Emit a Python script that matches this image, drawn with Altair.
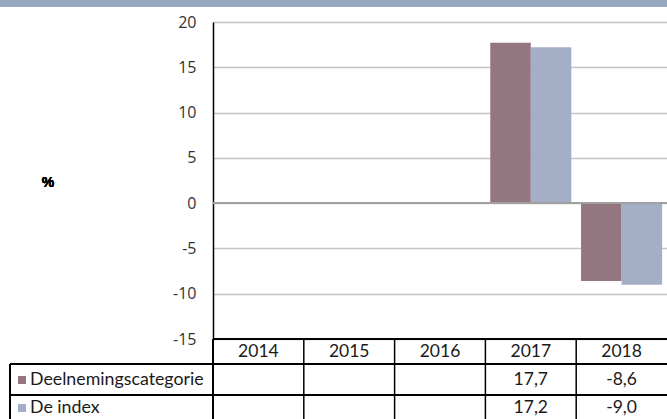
import altair as alt
import pandas as pd

years = ["2014", "2015", "2016", "2017", "2018"]
series = ["Deelnemingscategorie", "De index"]
deelneming = [None, None, None, 17.7, -8.6]
de_index = [None, None, None, 17.2, -9.0]
colors = ["#93767f", "#a4afc7"]
y_ticks = [-15, -10, -5, 0, 5, 10, 15, 20]

rows = []
for i, y in enumerate(years):
    rows.append({"year": y, "series": series[0], "value": deelneming[i]})
    rows.append({"year": y, "series": series[1], "value": de_index[i]})
df = pd.DataFrame(rows)
ydf = pd.DataFrame({"year": years})
sdf = pd.DataFrame({"series": series})

W, H = 454, 317
TF = "Lato"
TS = 17.5

xscale = alt.Scale(domain=years, paddingInner=0, paddingOuter=0)
yscale = alt.Scale(domain=[-15, 20], nice=False, zero=False)
cscale = alt.Scale(domain=series, range=colors)

base = alt.Chart(df)

band = alt.Chart(ydf).mark_rect(color="#97a7be").encode(
    x=alt.value(-213), x2=alt.value(W), y=alt.value(-22), y2=alt.value(-15))

bars = base.transform_filter("datum.value != null").mark_bar().encode(
    x=alt.X("year:N", scale=xscale, axis=None),
    xOffset=alt.XOffset("series:N", scale=alt.Scale(domain=series, paddingInner=0, paddingOuter=0.12)),
    y=alt.Y("value:Q", scale=yscale,
            axis=alt.Axis(values=y_ticks, grid=True, gridColor="#c4c4c4", gridWidth=1.5,
                          domainColor="#000000", domainWidth=1.5, ticks=False,
                          labelPadding=17, labelFont="Open Sans", labelFontSize=16,
                          labelColor="#333333", title=None,
                          labelExpr="replace(datum.label, '\u2212', '-')")),
    color=alt.Color("series:N", scale=cscale, legend=None),
)

zero = alt.Chart(ydf).mark_rule(color="#a0a0a0", strokeWidth=1.5).encode(
    y=alt.datum(0, scale=yscale), x=alt.value(0), x2=alt.value(W))

pct = alt.Chart(ydf).mark_text(text="%", font="Liberation Sans", fontSize=14,
                               fontWeight="bold", color="#000").encode(
    x=alt.value(48 - 213), y=alt.value(183 - 22))

# table lines
hlines = []
for yy, x0 in [(H, 0), (342, -203), (373, -203)]:
    hlines.append(alt.Chart(ydf).mark_rule(color="#000", strokeWidth=1.5).encode(
        y=alt.value(yy), x=alt.value(x0), x2=alt.value(W)))
vleft = alt.Chart(ydf).mark_rule(color="#000", strokeWidth=1.5).encode(
    x=alt.value(0), y=alt.value(H), y2=alt.value(H + 80))
vfar = alt.Chart(ydf).mark_rule(color="#000", strokeWidth=1.5).encode(
    x=alt.value(-203), y=alt.value(342), y2=alt.value(H + 80))
vcols = alt.Chart(ydf).transform_filter("datum.year != '2014'").mark_rule(
    color="#000", strokeWidth=1.5).encode(
    x=alt.X("year:N", scale=xscale, bandPosition=0),
    y=alt.value(H), y2=alt.value(H + 80))

header = alt.Chart(ydf).mark_text(font=TF, fontSize=TS, color="#1a1a1a", baseline="middle").encode(
    x=alt.X("year:N", scale=xscale, bandPosition=0.5), y=alt.value(330), text="year:N")

vals = []
for s, yy in [(series[0], 358), (series[1], 386)]:
    vals.append(base.transform_filter(f"datum.series == '{s}' && datum.value != null").transform_calculate(
        lab="replace(replace(format(datum.value, '.1f'), '.', ','), '\u2212', '-')").mark_text(
        font=TF, fontSize=TS, color="#1a1a1a", baseline="middle").encode(
        x=alt.X("year:N", scale=xscale, bandPosition=0.5), y=alt.value(yy), text="lab:N"))

labels = []
for s, yy in [(series[0], 358), (series[1], 386)]:
    one = alt.Chart(sdf).transform_filter(f"datum.series == '{s}'")
    labels.append(one.mark_square(size=64, opacity=1).encode(
        x=alt.value(22 - 213), y=alt.value(yy),
        color=alt.Color("series:N", scale=cscale, legend=None)))
    labels.append(one.mark_text(font=TF, fontSize=17.8, color="#1a1a1a", align="left",
                                baseline="middle").encode(
        x=alt.value(30 - 213), y=alt.value(yy), text="series:N"))

chart = alt.layer(band, bars, zero, pct, *hlines, vleft, vfar, vcols, header, *vals, *labels).properties(
    width=W, height=H,
    padding={"left": 213, "top": 22, "right": 0, "bottom": 80},
    autosize=alt.AutoSizeParams(type="none"),
).configure_view(stroke=None).configure(background="white")

chart.save("out.html", embed_options={"renderer": "svg", "actions": False})
